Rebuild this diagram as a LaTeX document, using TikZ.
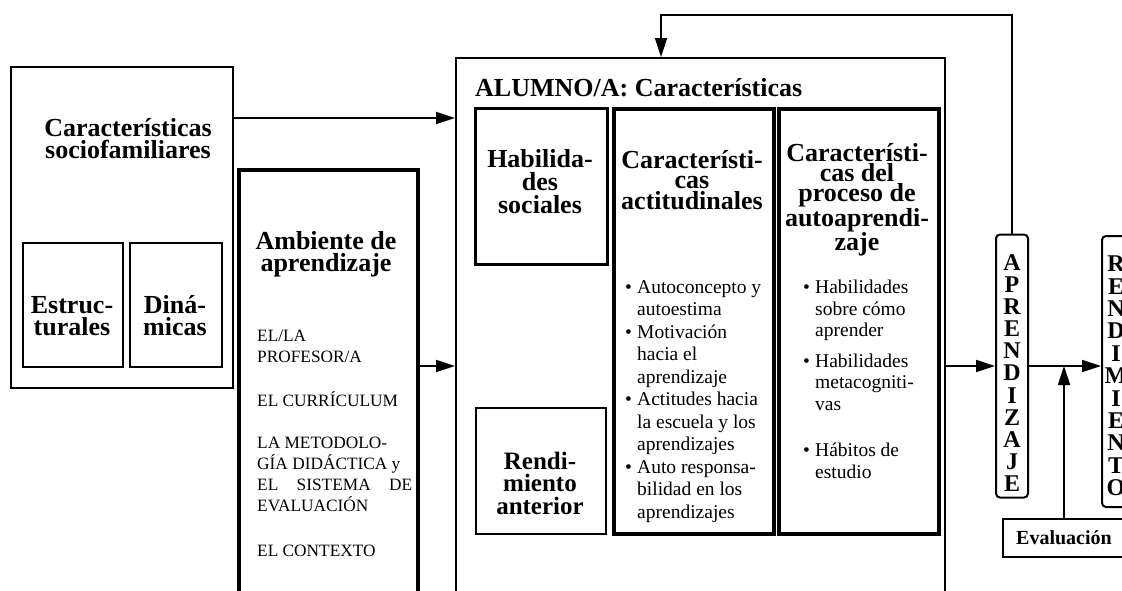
\documentclass[tikz,border=0pt]{standalone}
\usepackage{fontspec}
\setmainfont{Liberation Serif}
\usetikzlibrary{arrows.meta,positioning}

\newcommand{\bul}{\makebox[12pt][l]{\textbullet}}
\newcommand{\ind}{\hspace*{12pt}}

\begin{document}
\begin{tikzpicture}[x=1pt,y=-1pt,
  thinbox/.style={draw,line width=1.6pt,inner sep=0pt,anchor=north west},
  thickbox/.style={draw,line width=3.6pt,inner sep=0pt,anchor=north west},
  vbox/.style={draw,line width=2pt,rounded corners=4pt,inner sep=0pt,minimum width=32},
  vtext/.style={align=center,inner sep=0pt,font=\bfseries\fontsize{24}{22.1}\selectfont},
  head/.style={align=center,inner sep=0pt,font=\bfseries\fontsize{26}{22}\selectfont},
  body/.style={align=left,inner sep=0pt,anchor=north west,font=\fontsize{19.5}{22.5}\selectfont},
  flecha/.style={line width=1.8pt,-{Triangle[length=19pt,width=12pt]}}]
\useasboundingbox (0,0) rectangle (1122,590);
\clip (0,0) rectangle (1122,590);

% caracteristicas sociofamiliares
\node[thinbox,minimum width=222,minimum height=321] (socio) at (10,66) {};
\node[head] (sociot) at (128,139) {Características\\sociofamiliares};
\node[thinbox,minimum width=100,minimum height=124] (estr) at (22,242) {};
\node[head] (estrt) at (72,316) {Estruc-\\turales};
\node[thinbox,minimum width=92,minimum height=124] (dina) at (129,242) {};
\node[head] (dinat) at (175,316) {Diná-\\micas};

% ambiente de aprendizaje
\node[thickbox,minimum width=179,minimum height=460] (amb) at (237,168) {};
\node[head] (ambt) at (326,254) {Ambiente de\\aprendizaje};
\node[body,font=\fontsize{17.3}{21}\selectfont] (ambl) at (257,330) {EL/LA\\PROFESOR/A\\[23pt]EL CURRÍCULUM\\[21pt]LA METODOLO-\\GÍA DIDÁCTICA y\\\makebox[155pt][s]{EL SISTEMA DE}\\EVALUACIÓN\\[24pt]EL CONTEXTO};

% alumno/a
\node[thinbox,minimum width=489,minimum height=560] (alumno) at (455,57) {};
\node[head,anchor=west] (alumnot) at (475,88) {ALUMNO/A: Características};
\node[thickbox,line width=3pt,minimum width=132,minimum height=156] (habil) at (474,107) {};
\node[head,font=\bfseries\fontsize{26}{23}\selectfont] (habilt) at (540,182) {Habilida-\\des\\sociales};
\node[thinbox,minimum width=130,minimum height=126] (rendant) at (475,407) {};
\node[head,font=\bfseries\fontsize{25}{22.5}\selectfont] (rendantt) at (540,483) {Rendi-\\miento\\anterior};
\node[thickbox,line width=4pt,minimum width=160,minimum height=425] (actit) at (612,107) {};
\node[head,font=\bfseries\fontsize{26}{20.5}\selectfont] (actitt) at (692,180) {Característi-\\cas\\actitudinales};
\node[body] (actitl) at (625,280) {\bul Autoconcepto y\\\ind autoestima\\\bul Motivación\\\ind hacia el\\\ind aprendizaje\\\bul Actitudes hacia\\\ind la escuela y los\\\ind aprendizajes\\\bul Auto responsa-\\\ind bilidad en los\\\ind aprendizajes};
\node[thickbox,line width=4pt,minimum width=160,minimum height=425] (autoap) at (777,107) {};
\node[head,font=\bfseries\fontsize{26}{20}\selectfont] (autoapt) at (857,200) {Característi-\\cas del\\proceso de\\autoaprendi-\\zaje};
\node[body,font=\fontsize{19.5}{21.5}\selectfont] (autoapl) at (803,280) {\bul Habilidades\\\ind sobre cómo\\\ind aprender\\[9pt]\bul Habilidades\\\ind metacogniti-\\\ind vas\\[25pt]\bul Hábitos de\\\ind estudio};

% aprendizaje, rendimiento, evaluacion
\node[vbox,minimum height=263] (aprend) at (1012,366) {};
\node[vtext] (aprendt) at (1012,373) {A\\P\\R\\E\\N\\D\\I\\Z\\A\\J\\E};
\node[vbox,minimum height=271] (rend) at (1118,371.5) {};
\node[vtext,font=\bfseries\fontsize{24}{22.4}\selectfont] (rendt) at (1116,376) {R\\E\\N\\D\\I\\M\\I\\E\\N\\T\\O};
\node[draw,line width=2.4pt,inner sep=0pt,minimum width=122,minimum height=38,font=\bfseries\fontsize{20}{22}\selectfont] (eval) at (1064,538) {Evaluación};

% flechas
\coordinate (inA) at (455,118);
\coordinate (fb) at (661,15);
\draw[flecha] (socio.east |- inA) -- (inA);
\draw[flecha] (amb.east |- aprend.west) -- (alumno.west |- aprend.west);
\draw[flecha] (alumno.east |- aprend.west) -- (aprend.west);
\draw[flecha] (aprend.east) -- (rend.west |- aprend.east);
\draw[flecha] (eval.north) -- (eval.north |- aprend.east);
\draw[flecha,line width=1.5pt] (aprend.north) |- (fb) -- (fb |- alumno.north);
\end{tikzpicture}
\end{document}
